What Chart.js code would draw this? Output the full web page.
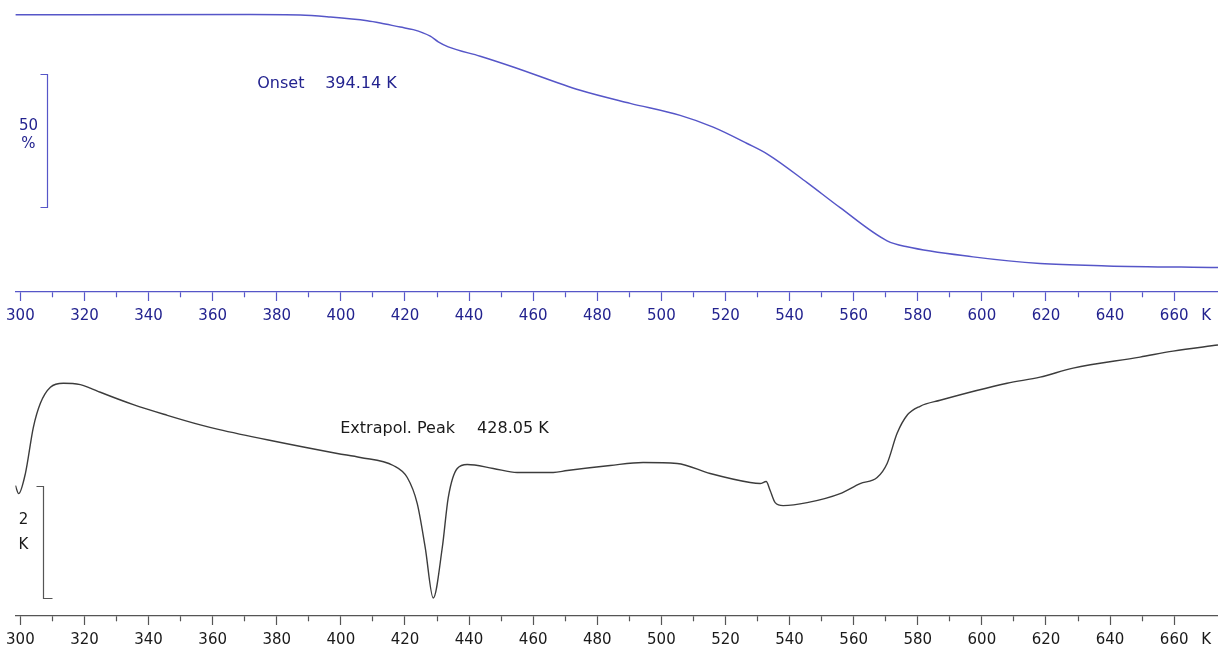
<!DOCTYPE html>
<html>
<head>
<meta charset="utf-8">
<script src="https://cdn.jsdelivr.net/npm/chart.js@4.4.1/dist/chart.umd.min.js"></script>
<style>
  html, body { margin: 0; padding: 0; background: #fff; }
  #wrap { position: relative; width: 1218px; height: 649px; overflow: hidden; }
  #tga { position: absolute; left: 0; top: 0; }
  #dta { position: absolute; left: 0; top: 330px; }
</style>
</head>
<body>
<div id="wrap">
  <canvas id="tga" width="1218" height="331"></canvas>
  <canvas id="dta" width="1218" height="326"></canvas>
</div>
<script>
'use strict';

// temperature axis (K)
const X_MIN = 298.44;
const X_MAX = 673.67;
const TICKS = [300, 310, 320, 330, 340, 350, 360, 370, 380, 390, 400, 410, 420, 430, 440, 450,
  460, 470, 480, 490, 500, 510, 520, 530, 540, 550, 560, 570, 580, 590, 600, 610, 620, 630,
  640, 650, 660, 670];
const UNIT_TICK = 670;

// TG curve: mass in %
const tgaTemp = [298.44, 371.74, 387.34, 396.69, 408.2, 412.29, 418.53, 422.58, 427.89, 430.38,
  433.5, 443.48, 453.77, 474.67, 490.27, 505.86, 516.16, 526.76, 533.31, 545.48, 555.77,
  570.43, 576.67, 597.26, 618.15, 639.05, 673.67];
const tgaMass = [100.0, 100.05, 99.89, 99.13, 97.73, 96.9, 95.34, 94.39, 91.93, 89.77,
  87.88, 84.36, 80.3, 71.48, 66.55, 62.01, 57.58, 51.4, 47.23, 36.63, 27.16,
  14.66, 12.39, 8.6, 6.06, 5.19, 4.55];

// DTA curve: delta T in K
const dtaTemp = [298.44, 299.47, 301.56, 304.05, 306.24, 309.36, 313.41, 318.71, 321.8, 324.95, 335.25,
  345.85, 356.14, 361.76, 377.36, 398.88, 406.05, 416.34, 420.71, 423.83, 426.33, 428.82,
  431.63, 433.5, 436.31, 439.43, 447.54, 455.02, 466.25, 470.62, 484.03, 494.32, 504.93,
  515.22, 527.7, 530.82, 532.69, 533.94, 535.5, 537.99, 545.48, 555.77, 562.01, 567.31,
  570.43, 573.55, 576.67, 580.72, 586.96, 607.86, 618.15, 628.45, 649.34, 659.64, 673.67];
const dtaSignal = [1.0, 0.857, 1.214, 2.036, 2.464, 2.75, 2.821, 2.795, 2.735, 2.66, 2.44,
  2.25, 2.08, 2.0, 1.81, 1.571, 1.5, 1.357, 1.143, 0.679, -0.107, -1.0,
  -0.107, 0.786, 1.304, 1.375, 1.304, 1.232, 1.232, 1.268, 1.357, 1.411, 1.393,
  1.214, 1.054, 1.036, 1.071, 0.911, 0.696, 0.643, 0.696, 0.857, 1.036, 1.143,
  1.393, 1.929, 2.25, 2.411, 2.518, 2.821, 2.929, 3.089, 3.286, 3.393, 3.5];

const FONT = '"DejaVu Sans", Verdana, sans-serif';

function tempAxis(lineColor, textColor) {
  return {
    type: 'linear',
    min: X_MIN,
    max: X_MAX,
    afterBuildTicks: axis => { axis.ticks = TICKS.map(v => ({ value: v })); },
    ticks: {
      color: textColor,
      font: { family: FONT, size: 15 },
      padding: 6,
      maxRotation: 0,
      autoSkip: false,
      callback: v => v === UNIT_TICK ? 'K' : (v % 20 === 0 ? String(v) : ''),
    },
    grid: {
      drawOnChartArea: false,
      drawTicks: true,
      tickLength: 9,
      tickWidth: 1.2,
      tickColor: ctx => ctx.tick && ctx.tick.value === UNIT_TICK ? 'rgba(0,0,0,0)' : lineColor,
      tickBorderDash: ctx => ctx.tick && ctx.tick.value % 20 !== 0 ? [5, 40] : [],
    },
    border: { display: true, color: lineColor, width: 1.3 },
  };
}

// scale bar + annotation text
const overlay = {
  id: 'overlay',
  afterDatasetsDraw(chart, args, o) {
    const { ctx, scales: { x, y } } = chart;
    ctx.save();
    ctx.strokeStyle = o.barColor;
    ctx.lineWidth = 1.2;
    const bx = Math.round(x.getPixelForValue(o.barX)) + 0.5;
    const yTop = Math.round(y.getPixelForValue(o.bar[1])) + 0.5;
    const yBot = Math.round(y.getPixelForValue(o.bar[0])) + 0.5;
    ctx.beginPath();
    ctx.moveTo(bx - 7, yTop);
    ctx.lineTo(bx, yTop);
    ctx.lineTo(bx, yBot);
    ctx.lineTo(bx + o.bottomTick, yBot);
    ctx.stroke();

    ctx.fillStyle = o.textColor;
    ctx.font = '15px ' + FONT;
    ctx.textAlign = 'center';
    ctx.textBaseline = 'middle';
    const mid = (yTop + yBot) / 2;
    o.barLabel.forEach((t, i) => ctx.fillText(t, bx - o.labelDx, mid + o.labelDy[i]));

    ctx.font = '16px ' + FONT;
    ctx.textAlign = 'left';
    o.notes.forEach(n => ctx.fillText(n.text, x.getPixelForValue(n.x), y.getPixelForValue(n.y)));
    ctx.restore();
  },
};

const TGA_COLOR = '#5656c8';
const TGA_TEXT = '#23238f';
const DTA_COLOR = '#3c3c3c';
const DTA_AXIS = '#555555';
const DTA_TEXT = '#1a1a1a';

new Chart(document.getElementById('tga'), {
  type: 'line',
  data: {
    datasets: [{
      data: tgaTemp.map((t, i) => ({ x: t, y: tgaMass[i] })),
      borderColor: TGA_COLOR,
      borderWidth: 1.5,
      pointRadius: 0,
      cubicInterpolationMode: 'monotone',
      fill: false,
    }],
  },
  options: {
    responsive: false,
    animation: false,
    layout: { padding: { left: 15, right: 0, top: 0, bottom: 0 } },
    plugins: {
      legend: { display: false },
      tooltip: { enabled: false },
      overlay: {
        barX: 308.3,
        bar: [27.54, 77.54],
        bottomTick: -7,
        barColor: TGA_COLOR,
        textColor: TGA_TEXT,
        barLabel: ['50', '%'],
        labelDx: 19,
        labelDy: [-15, 3],
        notes: [
          { text: 'Onset', x: 373.9, y: 74.1 },
          { text: '394.14 K', x: 395.1, y: 74.1 },
        ],
      },
    },
    scales: {
      x: tempAxis(TGA_COLOR, TGA_TEXT),
      y: { display: false, min: -4.66, max: 105.57 },
    },
  },
  plugins: [overlay],
});

new Chart(document.getElementById('dta'), {
  type: 'line',
  data: {
    datasets: [{
      data: dtaTemp.map((t, i) => ({ x: t, y: dtaSignal[i] })),
      borderColor: DTA_COLOR,
      borderWidth: 1.4,
      pointRadius: 0,
      cubicInterpolationMode: 'monotone',
      fill: false,
    }],
  },
  options: {
    responsive: false,
    animation: false,
    layout: { padding: { left: 15, right: 0, top: 0, bottom: 1 } },
    plugins: {
      legend: { display: false },
      tooltip: { enabled: false },
      overlay: {
        barX: 307.1,
        bar: [-1, 1],
        bottomTick: 9,
        barColor: DTA_AXIS,
        textColor: DTA_TEXT,
        barLabel: ['2', 'K'],
        labelDx: 20,
        labelDy: [-22, 3],
        notes: [
          { text: 'Extrapol. Peak', x: 399.8, y: 2.018 },
          { text: '428.05 K', x: 442.5, y: 2.018 },
        ],
      },
    },
    scales: {
      x: tempAxis(DTA_AXIS, DTA_TEXT),
      y: { display: false, min: -1.321, max: 3.768 },
    },
  },
  plugins: [overlay],
});
</script>
</body>
</html>
